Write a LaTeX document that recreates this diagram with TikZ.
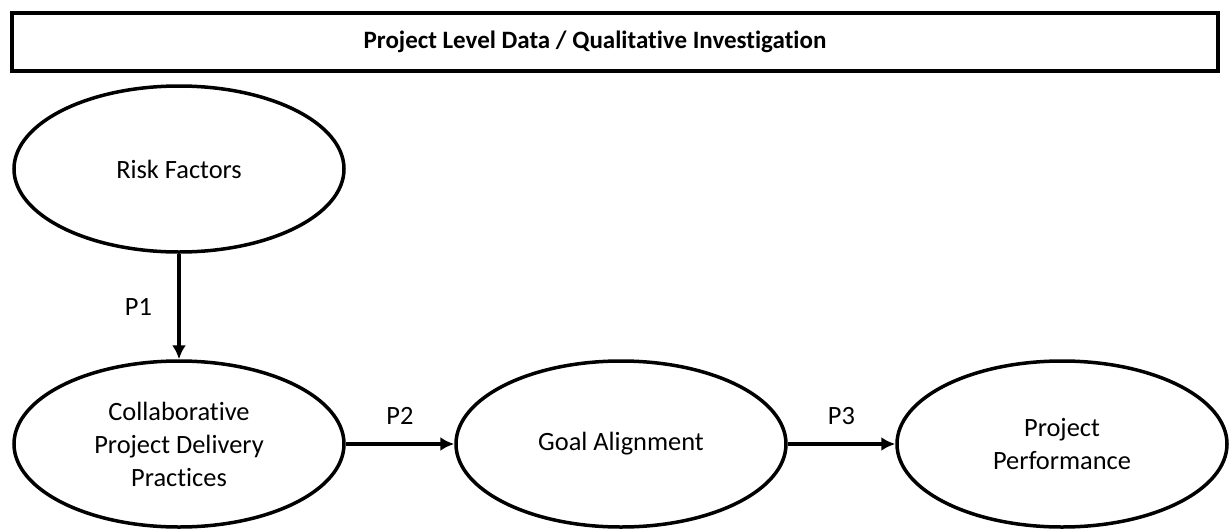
\documentclass[tikz,border=0pt]{standalone}
\usepackage{fontspec}
\setmainfont[Ligatures=NoCommon]{Carlito}
\usetikzlibrary{shapes.geometric}
\tikzset{
  construct/.style={draw, line width=3.5pt, ellipse, minimum width=330pt, minimum height=166pt, inner sep=0pt, align=center, font=\fontsize{26.4}{33}\selectfont},
  link/.style={-{Latex[length=14pt,width=14pt]}, line width=3.5pt},
  plabel/.style={font=\fontsize{26.4}{33}\selectfont}
}
\usetikzlibrary{arrows.meta}
\begin{document}
\begin{tikzpicture}[x=1pt, y=-1pt]
\useasboundingbox (0,0) rectangle (1232,528);
\node[draw, line width=3.5pt, minimum width=1206pt, minimum height=58pt] (frame) at (615,42) {};
\node[font=\bfseries\fontsize{25}{31}\selectfont] (title) at (595,42) {Project Level Data / Qualitative Investigation};
\node[construct] (risk) at (179,169) {Risk Factors};
\node[construct] (cpdp) at (179,444) {Collaborative\\Project Delivery\\Practices};
\node[construct] (goal) at (621,444) {Goal Alignment};
\node[construct] (perf) at (1062,444) {Project\\Performance};
\draw[link] (risk) -- (cpdp) node[pos=0.5, left=22pt, plabel] {P1};
\draw[link] (cpdp) -- (goal) node[pos=0.5, above=14pt, plabel] {P2};
\draw[link] (goal) -- (perf) node[pos=0.5, above=14pt, plabel] {P3};
\end{tikzpicture}
\end{document}
